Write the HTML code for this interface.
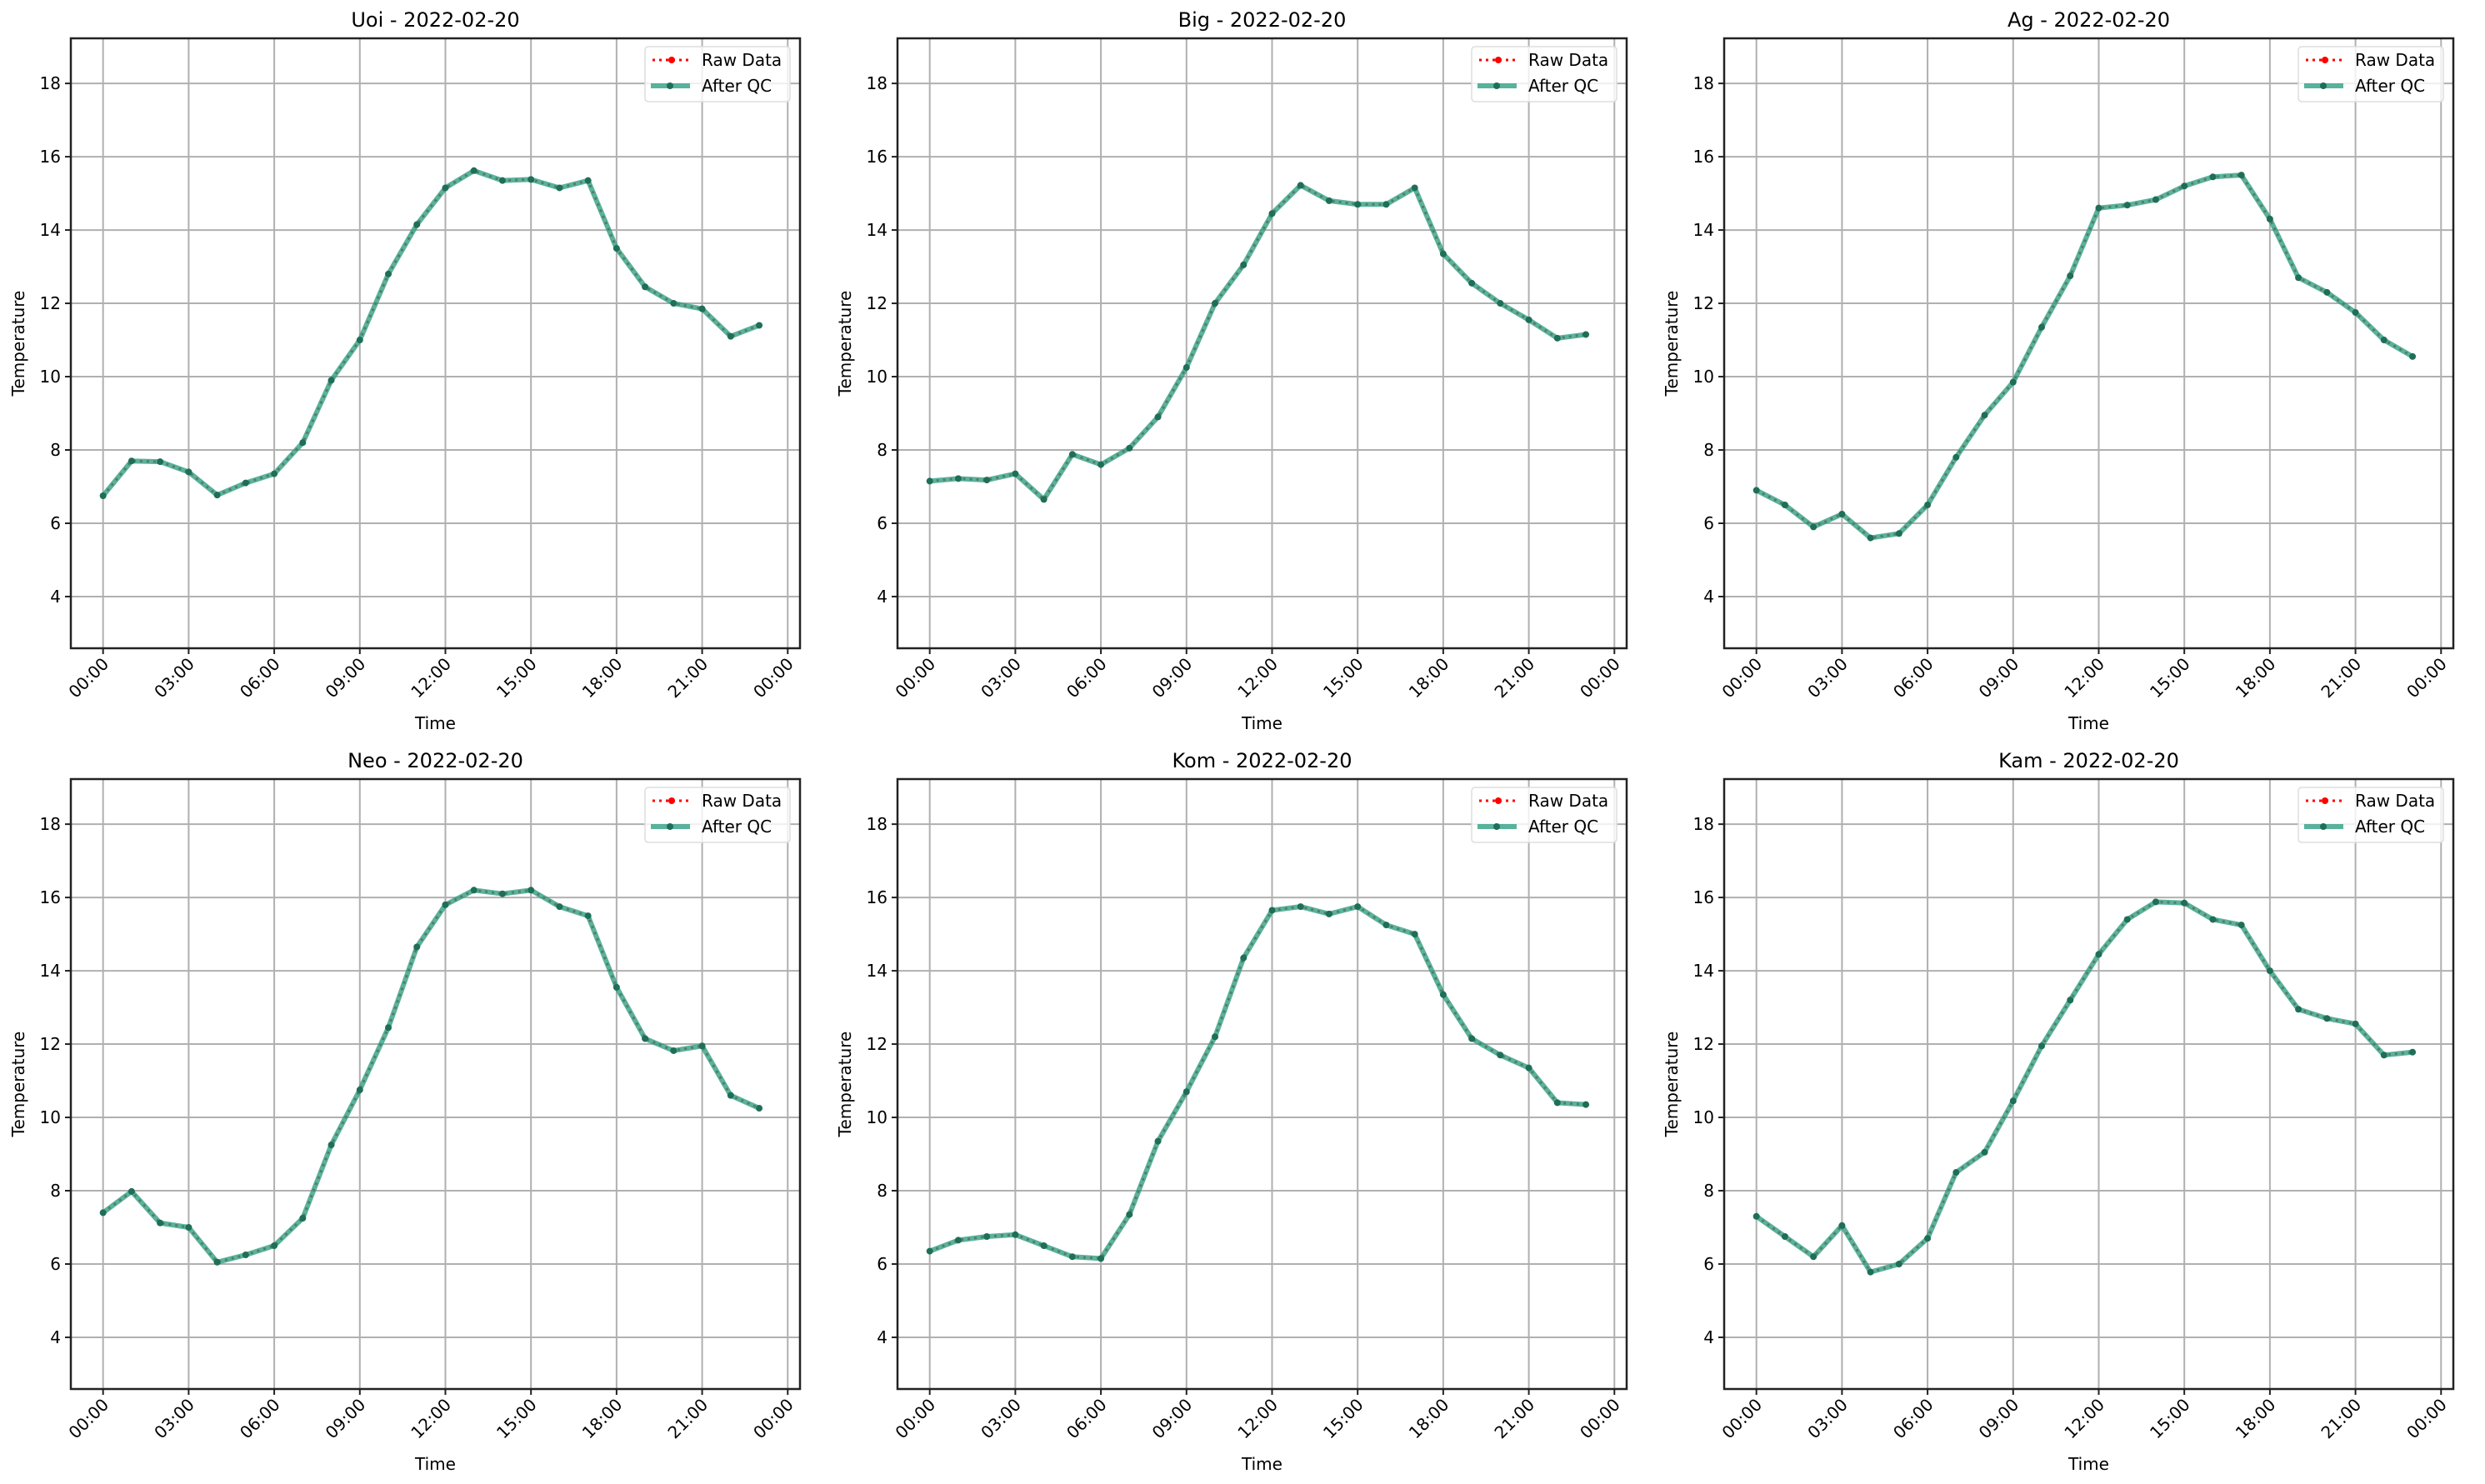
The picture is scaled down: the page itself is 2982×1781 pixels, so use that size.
<!DOCTYPE html>
<html><head><meta charset="utf-8"><style>
html,body{margin:0;padding:0;background:#fff}
svg{display:block;font-family:"DejaVu Sans","Liberation Sans",sans-serif}
</style></head><body>
<svg id="fig" width="2982" height="1781" viewBox="0 0 2982 1781" xmlns="http://www.w3.org/2000/svg"></svg>
<script>
const stations = ["Uoi","Big","Ag","Neo","Kom","Kam"];
const dateLabel = "2022-02-20";
const hours = [0,1,2,3,4,5,6,7,8,9,10,11,12,13,14,15,16,17,18,19,20,21,22,23];
const uoiVals = [6.75,7.7,7.68,7.4,6.77,7.1,7.35,8.2,9.9,11.0,12.8,14.15,15.15,15.62,15.35,15.38,15.15,15.35,13.5,12.45,12.0,11.85,11.1,11.4];
const bigVals = [7.15,7.22,7.18,7.35,6.65,7.88,7.6,8.05,8.9,10.25,12.0,13.05,14.45,15.22,14.8,14.7,14.7,15.15,13.35,12.55,12.0,11.55,11.05,11.15];
const agVals = [6.9,6.5,5.9,6.25,5.6,5.72,6.5,7.8,8.95,9.85,11.35,12.75,14.6,14.68,14.83,15.2,15.45,15.5,14.3,12.7,12.3,11.75,11.0,10.55];
const neoVals = [7.4,7.98,7.12,7.0,6.05,6.25,6.5,7.25,9.25,10.75,12.45,14.65,15.8,16.2,16.1,16.2,15.75,15.5,13.55,12.15,11.82,11.95,10.6,10.25];
const komVals = [6.35,6.65,6.75,6.8,6.5,6.2,6.15,7.35,9.35,10.7,12.2,14.35,15.65,15.75,15.55,15.75,15.25,15.0,13.35,12.15,11.7,11.35,10.4,10.35];
const kamVals = [7.3,6.75,6.2,7.05,5.78,6.0,6.7,8.5,9.05,10.45,11.95,13.2,14.45,15.4,15.88,15.85,15.4,15.25,14.0,12.95,12.7,12.55,11.7,11.78];
const yTicks = [4,6,8,10,12,14,16,18];
const xTickHours = [0,3,6,9,12,15,18,21,24];
const xTickLabels = ["00:00","03:00","06:00","09:00","12:00","15:00","18:00","21:00","00:00"];
const yMin = 2.59, yMax = 19.23, xMin = -1.13, xMax = 24.43;

const allVals = [uoiVals,bigVals,agVals,neoVals,komVals,kamVals];
const NS = "http://www.w3.org/2000/svg";
const fig = document.getElementById("fig");
function mk(tag, attrs, parent){const e=document.createElementNS(NS,tag);for(const k in attrs)e.setAttribute(k,attrs[k]);parent.appendChild(e);return e;}

const lefts=[85,1077,2069], tops=[46,935], W=875, H=732;
stations.forEach((st,i)=>{
  const L=lefts[i%3], T=tops[Math.floor(i/3)];
  const sx=v=>L+(v-xMin)/(xMax-xMin)*W;
  const sy=v=>T+H-(v-yMin)/(yMax-yMin)*H;
  const g=mk("g",{},fig);
  
  
  // grid
  yTicks.forEach(t=>{
    const ln=mk("line",{x1:L,x2:L+W,y1:sy(t),y2:sy(t),stroke:"#b0b0b0","stroke-width":2},g);
    
    
    const tk=mk("line",{x1:L-7,x2:L,y1:sy(t),y2:sy(t),stroke:"#222","stroke-width":2},g);
    
    
    const tx=mk("text",{x:L-12,y:sy(t)+7,"text-anchor":"end","font-size":20,fill:"#000"},g);
    tx.textContent=t;
    
    
  });
  xTickHours.forEach((h,j)=>{
    const x=sx(h);
    const ln=mk("line",{x1:x,x2:x,y1:T,y2:T+H,stroke:"#b0b0b0","stroke-width":2},g);
    
    
    const tk=mk("line",{x1:x,x2:x,y1:T+H,y2:T+H+7,stroke:"#222","stroke-width":2},g);
    
    
    const tx=mk("text",{x:x+8,y:T+H+20,"text-anchor":"end","font-size":20,fill:"#000",transform:`rotate(-45 ${x+8} ${T+H+20})`},g);
    tx.textContent=xTickLabels[j];
    
    
  });
  const vals=allVals[i];
  const pts=hours.map((h,k)=>sx(h)+","+sy(vals[k])).join(" ");
  const raw=mk("polyline",{points:pts,fill:"none",stroke:"#ff0000","stroke-width":3,"stroke-dasharray":"3,5"},g);
  
  
  const qc=mk("polyline",{points:pts,fill:"none",stroke:"#2a9d80","stroke-opacity":0.78,"stroke-width":6,"stroke-linejoin":"round"},g);
  
  
  hours.forEach((h,k)=>{
    const c=mk("circle",{cx:sx(h),cy:sy(vals[k]),r:4,fill:"#1f6e58"},g);
    
    
  });
  const fr=mk("rect",{x:L,y:T,width:W,height:H,fill:"none",stroke:"#222","stroke-width":2.5},g);
  
  
  const ti=mk("text",{x:L+W/2,y:T-14,"text-anchor":"middle","font-size":24,fill:"#000"},g);
  ti.textContent=st+" - "+dateLabel;
  
  
  const xl=mk("text",{x:L+W/2,y:T+H+97,"text-anchor":"middle","font-size":20,fill:"#000"},g);
  xl.textContent="Time";
  
  
  const yl=mk("text",{x:0,y:0,"text-anchor":"middle","font-size":20,fill:"#000",transform:`translate(${L-56} ${T+H/2}) rotate(-90)`},g);
  yl.textContent="Temperature";
  
  
  // legend
  const lg=mk("g",{},g);
  
  
  const lx=L+W-186, ly=T+10;
  mk("rect",{x:lx,y:ly,width:174,height:66,rx:4,fill:"#fff","fill-opacity":0.8,stroke:"#ddd","stroke-width":1.5},lg);
  const r1=mk("line",{x1:lx+9,x2:lx+55,y1:ly+16,y2:ly+16,stroke:"#ff0000","stroke-width":3,"stroke-dasharray":"3,5"},lg);
  
  
  mk("circle",{cx:lx+32,cy:ly+16,r:4,fill:"#ff0000"},lg);
  const t1=mk("text",{x:lx+68,y:ly+23,"font-size":20,fill:"#000"},lg);
  t1.textContent="Raw Data";
  
  
  const r2=mk("line",{x1:lx+7,x2:lx+54,y1:ly+47,y2:ly+47,stroke:"#2a9d80","stroke-opacity":0.78,"stroke-width":6},lg);
  
  
  mk("circle",{cx:lx+30,cy:ly+47,r:4,fill:"#1f6e58"},lg);
  const t2=mk("text",{x:lx+68,y:ly+54,"font-size":20,fill:"#000"},lg);
  t2.textContent="After QC";
  
  
});
</script>
</body></html>
